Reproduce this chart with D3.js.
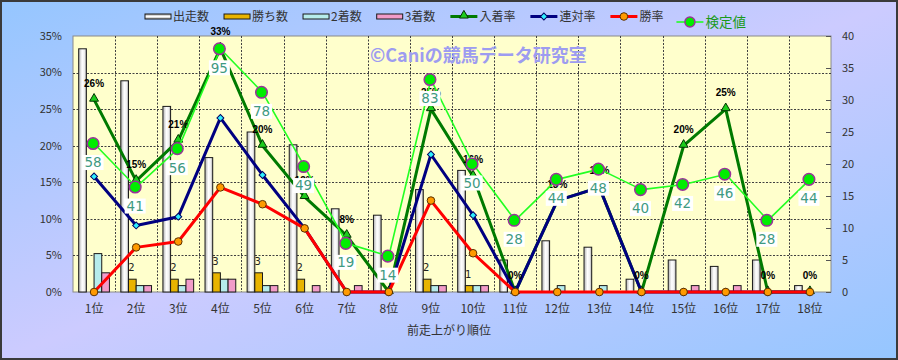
<!DOCTYPE html>
<html><head><meta charset="utf-8">
<script src="https://cdn.jsdelivr.net/npm/d3@7/dist/d3.min.js"></script>
<style>body{margin:0;background:#fff}svg{display:block}</style>
</head><body><svg id="c" width="898" height="360"></svg>
<script>
// ---- data ----
const categories = ["1位","2位","3位","4位","5位","6位","7位","8位","9位","10位","11位","12位","13位","14位","15位","16位","17位","18位"];
const runs    = [38,33,29,21,25,23,13,12,16,19,5,8,7,2,5,4,5,1];
const wins    = [0,2,2,3,3,2,0,0,2,1,0,0,0,0,0,0,0,0];
const seconds = [6,1,1,2,1,0,0,0,1,1,0,1,1,0,0,0,0,0];
const thirds  = [3,1,2,2,1,1,1,0,1,1,0,0,0,0,1,1,0,0];
const placeRate   = [26.3,15.2,20.7,33.3,20.0,13.0,7.7,0,25.0,15.8,0,12.5,14.3,0,20.0,25.0,0,0];
const quinellaRate= [15.8,9.1,10.3,23.8,16.0,8.7,0,0,18.8,10.5,0,12.5,14.3,0,0,0,0,0];
const winRate     = [0,6.1,6.9,14.3,12.0,8.7,0,0,12.5,5.3,0,0,0,0,0,0,0,0];
const score       = [58,41,56,95,78,49,19,14,83,50,28,44,48,40,42,46,28,44];
const leftTicks  = [0,5,10,15,20,25,30,35];
const rightTicks = [0,5,10,15,20,25,30,35,40];
const barKeys = ["出走数","勝ち数","2着数","3着数"];
const lineKeys = ["入着率","連対率","勝率","検定値"];
const xTitle = "前走上がり順位";
const watermark = "©Caniの競馬データ研究室";

// ---- layout ----
const W=898,H=360;
const L=73,R=831,T=36,B=292;
const svg=d3.select("#c");
const defs=svg.append("defs");
const bg=defs.append("linearGradient").attr("id","bg").attr("x1",0).attr("y1",0).attr("x2",1).attr("y2",1);
bg.append("stop").attr("offset",0).attr("stop-color","#95c6ff");
bg.append("stop").attr("offset",0.5).attr("stop-color","#cccbff");
bg.append("stop").attr("offset",1).attr("stop-color","#95c6ff");
const gw=defs.append("linearGradient").attr("id","gw").attr("x1",0).attr("y1",0).attr("x2",1).attr("y2",0);
gw.append("stop").attr("offset",0).attr("stop-color","#b0b0b0");
gw.append("stop").attr("offset",0.45).attr("stop-color","#ffffff");
gw.append("stop").attr("offset",0.75).attr("stop-color","#f0f0f0");
gw.append("stop").attr("offset",1).attr("stop-color","#a0a0a0");
const gwv=defs.append("linearGradient").attr("id","gwv").attr("x1",0).attr("y1",0).attr("x2",0).attr("y2",1);
gwv.append("stop").attr("offset",0).attr("stop-color","#a0a0a0");
gwv.append("stop").attr("offset",0.5).attr("stop-color","#ffffff");
gwv.append("stop").attr("offset",1).attr("stop-color","#a0a0a0");

svg.append("rect").attr("x",1).attr("y",1).attr("width",W-2).attr("height",H-2)
  .attr("fill","url(#bg)").attr("stroke","#3a3a3a").attr("stroke-width",2);

const x0=d3.scaleBand().domain(categories).range([L,R]).paddingInner(0.27).paddingOuter(0.135);
const x1=d3.scaleBand().domain(barKeys).range([0,x0.bandwidth()]);
const yL=d3.scaleLinear().domain([0,35]).range([B,T]);
const yR=d3.scaleLinear().domain([0,40]).range([B,T]);
const yS=d3.scaleLinear().domain([0,100]).range([B,T]);
const cx=c=>x0(c)+x0.bandwidth()/2;

const font="'Noto Sans CJK JP','Noto Sans',sans-serif";

// plot area
svg.append("rect").attr("x",L).attr("y",T).attr("width",R-L).attr("height",B-T)
  .attr("fill","#ffffcc").attr("stroke","#8a8a8a");
// gridlines
const grid=svg.append("g").attr("stroke","#404040").attr("stroke-dasharray","2,1.5").attr("stroke-width",1);
leftTicks.filter(t=>t>0&&t<35).forEach(t=>{
  grid.append("line").attr("x1",L).attr("x2",R).attr("y1",Math.round(yL(t))+0.5).attr("y2",Math.round(yL(t))+0.5);
});
for(let k=1;k<categories.length;k++){
  const xx=Math.round(L+k*x0.step())+0.5;
  grid.append("line").attr("x1",xx).attr("x2",xx).attr("y1",T).attr("y2",B);
}
// right ticks
rightTicks.forEach(t=>{
  svg.append("line").attr("x1",R-5).attr("x2",R).attr("y1",Math.round(yR(t))+0.5).attr("y2",Math.round(yR(t))+0.5).attr("stroke","#555");
});

// watermark
svg.append("text").attr("x",370).attr("y",62).attr("font-family",font).attr("font-weight","bold")
  .attr("font-size",18).attr("fill","#9d9cf0").text(watermark);

// axis labels
svg.append("g").selectAll("text").data(leftTicks).join("text")
  .attr("x",62).attr("y",d=>yL(d)).attr("dy","0.35em").attr("text-anchor","end")
  .attr("font-family",font).attr("font-size",11).attr("fill","#333").text(d=>d+"%");
svg.append("g").selectAll("text").data(rightTicks).join("text")
  .attr("x",842).attr("y",d=>yR(d)).attr("dy","0.35em").attr("text-anchor","start")
  .attr("font-family",font).attr("font-size",11).attr("fill","#333").text(d=>d);
svg.append("g").selectAll("text").data(categories).join("text")
  .attr("x",d=>cx(d)).attr("y",313).attr("text-anchor","middle")
  .attr("font-family",font).attr("font-size",12).attr("fill","#333").text(d=>d);
svg.append("text").attr("x",449).attr("y",335).attr("text-anchor","middle")
  .attr("font-family",font).attr("font-size",12).attr("fill","#333").text(xTitle);

// bars
const barFill={"出走数":"url(#gw)","勝ち数":"#e8b400","2着数":"#b6ecec","3着数":"#f29cc9"};
const barData=[runs,wins,seconds,thirds];
const bars=svg.append("g");
categories.forEach((c,i)=>{
  barKeys.forEach((k,j)=>{
    const v=barData[j][i];
    if(v<=0) return;
    bars.append("rect").attr("x",x0(c)+x1(k)).attr("y",yR(v)).attr("width",x1.bandwidth())
      .attr("height",B-yR(v)).attr("fill",barFill[k]).attr("stroke","#1a1a1a").attr("stroke-width",1);
  });
});
// win count labels
svg.append("g").selectAll("text").data(categories.map((c,i)=>({c,v:wins[i]})).filter(d=>d.v>0)).join("text")
  .attr("x",d=>x0(d.c)+x1("勝ち数")+x1.bandwidth()/2-1).attr("y",d=>yR(d.v)-8)
  .attr("text-anchor","middle").attr("font-family","'DejaVu Sans',sans-serif").attr("font-size",10)
  .attr("fill","#222").text(d=>d.v);

// lines
function drawLine(vals,scale,color,width){
  svg.append("path").datum(vals).attr("fill","none").attr("stroke",color).attr("stroke-width",width)
    .attr("stroke-linejoin","round")
    .attr("d",d3.line().x((d,i)=>cx(categories[i])).y(d=>scale(d)));
}
// 入着率
drawLine(placeRate,yL,"#007a00",3);
svg.append("g").selectAll("path").data(placeRate).join("path")
  .attr("transform",(d,i)=>`translate(${cx(categories[i])},${yL(d)-1})`)
  .attr("d",d3.symbol(d3.symbolTriangle).size(34)).attr("fill","#1ccc1c").attr("stroke","#003300").attr("stroke-width",1);
// 連対率
drawLine(quinellaRate,yL,"#000080",3);
svg.append("g").selectAll("path").data(quinellaRate).join("path")
  .attr("transform",(d,i)=>`translate(${cx(categories[i])},${yL(d)}) rotate(45)`)
  .attr("d",d3.symbol(d3.symbolSquare).size(24)).attr("fill","#2ef0ff").attr("stroke","#000060").attr("stroke-width",1);
// 勝率
drawLine(winRate,yL,"#ff0000",3);
svg.append("g").selectAll("circle").data(winRate).join("circle")
  .attr("cx",(d,i)=>cx(categories[i])).attr("cy",d=>yL(d)).attr("r",3.8)
  .attr("fill","#ff9a00").attr("stroke","#5a3000").attr("stroke-width",1);
// 入着率 labels
svg.append("g").selectAll("text").data(placeRate).join("text")
  .attr("x",(d,i)=>cx(categories[i])).attr("y",d=>yL(d)-13).attr("text-anchor","middle")
  .attr("font-family","'Liberation Sans',sans-serif").attr("font-weight","bold").attr("font-size",10)
  .attr("fill","#000").text(d=>Math.round(d)+"%");
// 検定値
drawLine(score,yS,"#22ff22",1.6);
svg.append("g").selectAll("circle").data(score).join("circle")
  .attr("cx",(d,i)=>cx(categories[i])-1).attr("cy",d=>yS(d)).attr("r",5.8)
  .attr("fill","#00ee00").attr("stroke","#993399").attr("stroke-width",1.5);
const sl=svg.append("g");
score.forEach((d,i)=>{
  const px=cx(categories[i])-1, py=yS(d)+19;
  sl.append("rect").attr("x",px-10.5).attr("y",py-7.5).attr("width",21).attr("height",15).attr("fill","#fff");
  sl.append("text").attr("x",px).attr("y",py).attr("dy","0.36em").attr("text-anchor","middle")
    .attr("font-family","'DejaVu Sans',sans-serif").attr("font-size",13.5).attr("fill","#3f9a82").text(d);
});

// legend
const lg=svg.append("g");
let lx=145;
const ly=16.5;
barKeys.forEach((k,j)=>{
  lg.append("rect").attr("x",lx).attr("y",ly-2.5).attr("width",26).attr("height",5)
    .attr("fill",j===0?"url(#gwv)":barFill[k]).attr("stroke","#1a1a1a");
  const t=lg.append("text").attr("x",lx+28).attr("y",ly).attr("dy","0.36em").attr("font-family",font)
    .attr("font-size",12).attr("fill","#333").text(k);
  lx+=28+t.node().getComputedTextLength()+15;
});
const lineSty=[
  {c:"#007a00",w:3,m:"tri"},{c:"#000080",w:3,m:"dia"},{c:"#ff0000",w:3,m:"cir"},{c:"#22ff22",w:1.6,m:"big"}];
lineKeys.forEach((k,j)=>{
  const s=lineSty[j];
  const yy= j===3? ly+5.5 : ly;
  lx = j===3 ? lx-2 : lx;
  lg.append("line").attr("x1",lx).attr("x2",lx+27).attr("y1",yy).attr("y2",yy).attr("stroke",s.c).attr("stroke-width",s.w);
  const mx=lx+13.5;
  if(s.m==="tri") lg.append("path").attr("transform",`translate(${mx},${yy-1})`).attr("d",d3.symbol(d3.symbolTriangle).size(34)).attr("fill","#1ccc1c").attr("stroke","#003300");
  if(s.m==="dia") lg.append("path").attr("transform",`translate(${mx},${yy}) rotate(45)`).attr("d",d3.symbol(d3.symbolSquare).size(24)).attr("fill","#2ef0ff").attr("stroke","#000060");
  if(s.m==="cir") lg.append("circle").attr("cx",mx).attr("cy",yy).attr("r",3.8).attr("fill","#ff9a00").attr("stroke","#5a3000");
  if(s.m==="big") lg.append("circle").attr("cx",mx).attr("cy",yy).attr("r",5).attr("fill","#00ee00").attr("stroke","#993399").attr("stroke-width",1.5);
  const t=lg.append("text").attr("x",lx+29).attr("y",yy).attr("dy","0.36em").attr("font-family",font)
    .attr("font-size",j===3?13.5:12).attr("fill",j===3?"#1a9a1a":"#333").text(k);
  lx+=29+t.node().getComputedTextLength()+15;
});
</script></body></html>
